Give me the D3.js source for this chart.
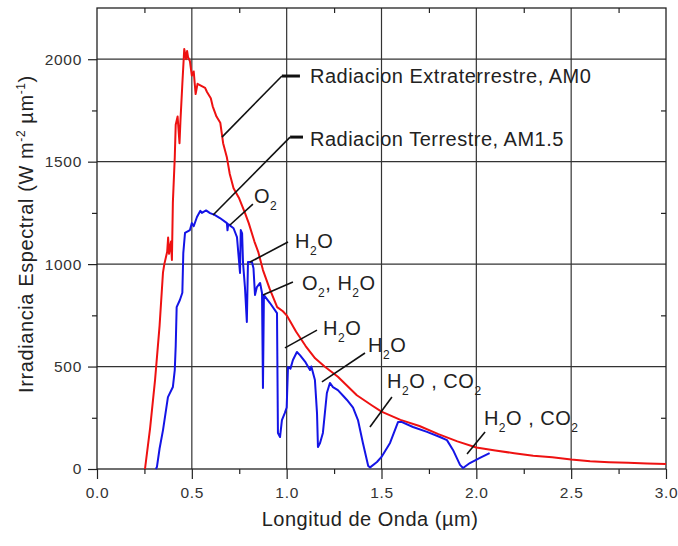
<!DOCTYPE html>
<html>
<head>
<meta charset="utf-8">
<script src="https://cdn.jsdelivr.net/npm/d3@7"></script>
<style>
    body { margin: 0; background: #fff; }
    svg text { font-family: "Liberation Sans", Arial, sans-serif; }
</style>
</head>
<body>
<div id="chart"></div>
<script>
// Extraterrestrial spectrum (AM0)
var wavelengthAM0 = [0.253, 0.28, 0.306, 0.33, 0.348, 0.355, 0.37, 0.375, 0.38, 0.39, 0.395, 0.40, 0.41, 0.415,
    0.425, 0.435, 0.44, 0.45, 0.46, 0.47, 0.475, 0.48, 0.49, 0.50, 0.51, 0.52, 0.53, 0.55, 0.57, 0.58, 0.60,
    0.61, 0.63, 0.65, 0.665, 0.685, 0.70, 0.72, 0.75, 0.78, 0.80, 0.83, 0.85, 0.875, 0.91, 0.95, 0.98, 1.0,
    1.05, 1.1, 1.15, 1.2, 1.27, 1.37, 1.45, 1.5, 1.6, 1.7, 1.8, 1.9, 2.0, 2.1, 2.2, 2.3, 2.4, 2.5, 2.6, 2.7,
    2.8, 2.9, 3.0];
var irradianceAM0 = [0, 200, 434, 700, 960, 1000, 1060, 1130, 1050, 1110, 1020, 1300, 1520, 1680,
    1720, 1590, 1700, 1880, 2050, 2000, 2040, 2010, 1990, 1920, 1940, 1830, 1880, 1870, 1860, 1840, 1810,
    1770, 1720, 1690, 1590, 1520, 1440, 1370, 1320, 1250, 1200, 1110, 1060, 971, 880, 790, 770, 750,
    670, 600, 540, 500, 450, 360, 310, 280, 240, 210, 170, 135, 105, 90, 77, 65, 57, 46, 38, 33,
    30, 27, 24];

// Terrestrial spectrum (AM1.5)
var wavelengthAM15 = [0.31, 0.316, 0.33, 0.348, 0.374, 0.40, 0.41, 0.415, 0.42, 0.437, 0.45, 0.455, 0.464,
    0.49, 0.50, 0.51, 0.527, 0.545, 0.553, 0.575, 0.596, 0.62, 0.648, 0.685, 0.688, 0.692, 0.72, 0.738,
    0.754, 0.758, 0.765, 0.77, 0.78, 0.79, 0.796, 0.817, 0.825, 0.833, 0.843, 0.86, 0.87, 0.875, 0.88,
    0.912, 0.949, 0.954, 0.965, 0.975, 0.99, 1.0, 1.007, 1.02, 1.033, 1.054, 1.07, 1.1, 1.123, 1.13,
    1.149, 1.16, 1.165, 1.176, 1.191, 1.212, 1.228, 1.244, 1.27, 1.30, 1.318, 1.35, 1.376, 1.402, 1.43,
    1.44, 1.476, 1.50, 1.545, 1.587, 1.608, 1.666, 1.74, 1.808, 1.845, 1.877, 1.914, 1.93, 1.966, 2.019,
    2.07];
var irradianceAM15 = [0, 10, 100, 190, 351, 400, 483, 600, 790, 825, 860, 1054, 1152,
    1166, 1200, 1185, 1230, 1260, 1250, 1262, 1249, 1240, 1225, 1200, 1165, 1195, 1175, 1132,
    957, 1166, 1150, 1005, 888, 718, 1010, 1010, 980, 849, 888, 908, 859, 395, 849,
    810, 761, 176, 156, 239, 273, 300, 498, 490, 532, 571, 556, 520, 483, 500,
    434, 273, 107, 127, 176, 371, 420, 400, 385, 355, 337, 300, 239, 127, 15,
    8, 34, 59, 127, 229, 229, 205, 181, 156, 141, 93, 20, 5, 29, 54,
    78];

// Axis ticks
var xTicks = [0, 0.5, 1.0, 1.5, 2.0, 2.5, 3.0];
var xMinor = [0.25, 0.75, 1.25, 1.75, 2.25, 2.75];
var yTicks = [0, 500, 1000, 1500, 2000];
var yMinor = [250, 750, 1250, 1750];

// Labels ("_2" = subscript 2)
var seriesNames = ["Radiacion Extraterrestre, AM0", "Radiacion Terrestre, AM1.5"];
var gasLabels = ["O_2", "H_2O", "O_2, H_2O", "H_2O", "H_2O", "H_2O , CO_2", "H_2O , CO_2"];

// SVG area
var svgWidth = 678;
var svgHeight = 546;
var margin = { top: 8, right: 12, bottom: 77, left: 97 };
var chartWidth = svgWidth - margin.left - margin.right;
var chartHeight = svgHeight - margin.top - margin.bottom;

var svg = d3.select("#chart")
    .append("svg")
    .attr("width", svgWidth)
    .attr("height", svgHeight);

var chartGroup = svg.append("g")
    .attr("transform", `translate(${margin.left}, ${margin.top})`);

var x = d3.scaleLinear().domain([0, 3]).range([0, chartWidth]);
var y = d3.scaleLinear().domain([0, 2250]).range([chartHeight, 0]);

// Grid
chartGroup.append("g").selectAll("line")
    .data(xTicks.slice(1, -1))
    .enter().append("line")
    .attr("x1", d => x(d)).attr("x2", d => x(d))
    .attr("y1", 0).attr("y2", chartHeight)
    .attr("stroke", "#333").attr("stroke-width", 1.2);
chartGroup.append("g").selectAll("line")
    .data(yTicks.slice(1))
    .enter().append("line")
    .attr("y1", d => y(d)).attr("y2", d => y(d))
    .attr("x1", 0).attr("x2", chartWidth)
    .attr("stroke", "#333").attr("stroke-width", 1.2);

// Axes
function styleAxis(g) {
    g.select(".domain").remove();
    g.selectAll("line").attr("stroke", "#222").attr("stroke-width", 1.2);
    g.selectAll("text")
        .attr("fill", "#333")
        .style("font-size", "15.5px")
        .style("letter-spacing", "0.7px");
}

chartGroup.append("g")
    .call(d3.axisLeft(y).tickValues(yTicks).tickSize(9).tickPadding(6).tickFormat(d3.format("d")))
    .call(styleAxis);
chartGroup.append("g")
    .call(d3.axisLeft(y).tickValues(yMinor).tickSize(5).tickFormat(""))
    .call(styleAxis);
chartGroup.append("g")
    .attr("transform", `translate(0,${chartHeight})`)
    .call(d3.axisBottom(x).tickValues(xTicks).tickSize(10).tickPadding(8).tickFormat(d3.format(".1f")))
    .call(styleAxis);
chartGroup.append("g")
    .attr("transform", `translate(0,${chartHeight})`)
    .call(d3.axisBottom(x).tickValues(xMinor).tickSize(5).tickFormat(""))
    .call(styleAxis);
// mirrored inward ticks on top and right
chartGroup.append("g")
    .call(d3.axisBottom(x).tickValues(xMinor).tickSize(5).tickFormat(""))
    .call(styleAxis);
chartGroup.append("g")
    .attr("transform", `translate(${chartWidth},0)`)
    .call(d3.axisLeft(y).tickValues(yMinor).tickSize(5).tickFormat(""))
    .call(styleAxis);

// Frame
chartGroup.append("rect")
    .attr("width", chartWidth).attr("height", chartHeight)
    .attr("fill", "none").attr("stroke", "#222").attr("stroke-width", 1.3);

// Curves
var line = d3.line().x(d => x(d[0])).y(d => y(d[1]));

chartGroup.append("path")
    .datum(d3.zip(wavelengthAM0, irradianceAM0))
    .attr("d", line)
    .attr("fill", "none").attr("stroke", "#ee1111").attr("stroke-width", 2)
    .attr("stroke-linejoin", "round");

chartGroup.append("path")
    .datum(d3.zip(wavelengthAM15, irradianceAM15))
    .attr("d", line)
    .attr("fill", "none").attr("stroke", "#1414e6").attr("stroke-width", 2)
    .attr("stroke-linejoin", "round");

// Annotations: leader from [x1,y1] to [x2,y2], label at [tx,ty] (data units)
var seriesNotes = [
    { from: [0.659, 1620], to: [0.975, 1918], dashEnd: 1.07, at: [1.123, 1884] },
    { from: [0.612, 1240], to: [1.018, 1620], dashEnd: 1.086, at: [1.123, 1576] }
];
var gasNotes = [
    { from: [0.701, 1191], to: [0.822, 1293], at: [0.828, 1298] },
    { from: [0.807, 1010], to: [1.007, 1108], at: [1.044, 1079] },
    { from: [0.875, 849], to: [1.033, 913], at: [1.081, 874] },
    { from: [0.991, 591], to: [1.160, 678], at: [1.192, 654] },
    { from: [1.186, 425], to: [1.413, 566], at: [1.429, 571] },
    { from: [1.439, 205], to: [1.555, 351], at: [1.529, 395] },
    { from: [1.951, 73], to: [2.046, 181], at: [2.040, 215] }
];

var notes = chartGroup.append("g");

seriesNotes.forEach(function(n, i) {
    notes.append("line")
        .attr("x1", x(n.from[0])).attr("y1", y(n.from[1]))
        .attr("x2", x(n.to[0])).attr("y2", y(n.to[1]))
        .attr("stroke", "#111").attr("stroke-width", 1.6);
    notes.append("line")
        .attr("x1", x(n.to[0])).attr("y1", y(n.to[1]))
        .attr("x2", x(n.dashEnd)).attr("y2", y(n.to[1]))
        .attr("stroke", "#111").attr("stroke-width", 3);
    notes.append("text")
        .attr("x", x(n.at[0])).attr("y", y(n.at[1]))
        .attr("fill", "#222")
        .style("font-size", "20px")
        .style("letter-spacing", "0.5px")
        .text(seriesNames[i]);
});

gasNotes.forEach(function(n, i) {
    notes.append("line")
        .attr("x1", x(n.from[0])).attr("y1", y(n.from[1]))
        .attr("x2", x(n.to[0])).attr("y2", y(n.to[1]))
        .attr("stroke", "#111").attr("stroke-width", 1.6);
    var t = notes.append("text")
        .attr("x", x(n.at[0])).attr("y", y(n.at[1]))
        .attr("fill", "#222")
        .style("font-size", "20px")
        .style("letter-spacing", "0.5px");
    // split into normal text and subscript digits
    var parts = gasLabels[i].split(/_(\d)/);
    parts.forEach(function(p, k) {
        if (p === "") return;
        if (k % 2 === 1) {
            t.append("tspan").attr("dy", 7).style("font-size", "12px").text(p);
        } else {
            t.append("tspan").attr("dy", k > 0 ? -7 : 0).text(p);
        }
    });
});

// Axis titles
svg.append("text")
    .attr("x", 370).attr("y", 526)
    .attr("text-anchor", "middle")
    .attr("fill", "#222")
    .style("font-size", "20px")
    .style("letter-spacing", "0.5px")
    .text("Longitud de Onda (\u00b5m)");

var yTitle = svg.append("text")
    .attr("transform", "translate(33, 234) rotate(-90)")
    .attr("text-anchor", "middle")
    .attr("fill", "#222")
    .style("font-size", "20px")
    .style("letter-spacing", "0.6px");
yTitle.append("tspan").text("Irradiancia Espectral (W m");
yTitle.append("tspan").attr("dy", -8).style("font-size", "12px").text("-2");
yTitle.append("tspan").attr("dy", 8).text(" \u00b5m");
yTitle.append("tspan").attr("dy", -8).style("font-size", "12px").text("-1");
yTitle.append("tspan").attr("dy", 8).text(")");
</script>
</body>
</html>
